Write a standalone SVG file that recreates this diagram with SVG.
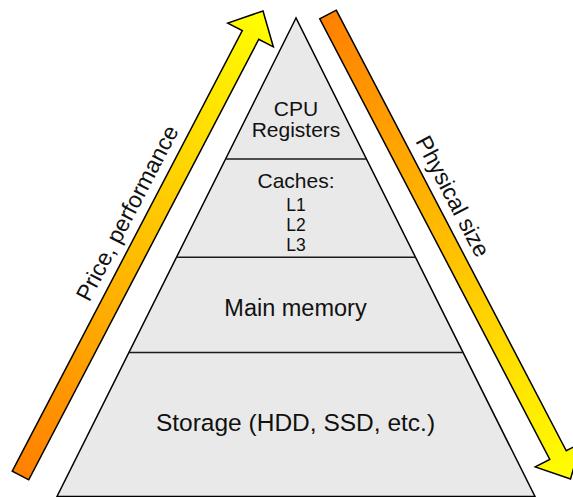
<svg xmlns="http://www.w3.org/2000/svg" width="573" height="497" viewBox="0 0 573 497">
  <defs>
    <linearGradient id="grad" x1="0" y1="0" x2="1" y2="0">
      <stop offset="0" stop-color="#FF8000"/>
      <stop offset="1" stop-color="#FFFF00"/>
    </linearGradient>
    <path id="arrowShape" d="M0,-9.3 L497,-9.3 L497,-25.7 L524,0 L497,25.7 L497,9.3 L0,9.3 Z"/>
  </defs>
  <style>
    .arrow { fill: url(#grad); stroke: #000; stroke-width: 1.5; stroke-linejoin: miter; }
    .pyr { fill: #E9E9E9; stroke: #000; stroke-width: 1.5; stroke-linejoin: miter; }
    .div { stroke: #1a1a1a; stroke-width: 1.6; }
    text { font-family: "Liberation Sans", Arial, sans-serif; fill: #111; text-anchor: middle; }
    .t21 { font-size: 21px; }
    .t17 { font-size: 17.5px; }
    .t23 { font-size: 23px; }
    .tmm { font-size: 23.5px; }
    .t24 { font-size: 24.5px; }
  </style>

  <g id="pyramid">
    <polygon class="pyr" points="296,18 57,496.5 535,496.5"/>
  </g>

  <g id="connectors">
    <line class="div" x1="225.6" y1="159" x2="366.4" y2="159"/>
    <line class="div" x1="176.3" y1="257.3" x2="415.7" y2="257.3"/>
    <line class="div" x1="128.8" y1="352.5" x2="463.2" y2="352.5"/>
  </g>

  <g id="arrow-price">
    <use href="#arrowShape" class="arrow" transform="translate(20.5,475.5) rotate(-62.43)"/>
    <text class="t23" transform="translate(134.2,216.7) rotate(-62.43)">Price, performance</text>
  </g>

  <g id="arrow-size">
    <use href="#arrowShape" class="arrow" transform="translate(328,14.5) rotate(62.43)"/>
    <text class="t23" transform="translate(445.8,200) rotate(62.43)">Physical size</text>
  </g>

  <g id="node-registers">
    <text class="t21" x="296" y="116">CPU</text>
    <text class="t21" x="296" y="137">Registers</text>
  </g>

  <g id="node-caches">
    <text class="t21" x="296" y="188.3">Caches:</text>
    <text class="t17" x="296" y="210.5">L1</text>
    <text class="t17" x="296" y="230.5">L2</text>
    <text class="t17" x="296" y="250.5">L3</text>
  </g>

  <g id="node-main-memory">
    <text class="tmm" x="295.5" y="316">Main memory</text>
  </g>

  <g id="node-storage">
    <text class="t24" x="295.5" y="431">Storage (HDD, SSD, etc.)</text>
  </g>
</svg>
